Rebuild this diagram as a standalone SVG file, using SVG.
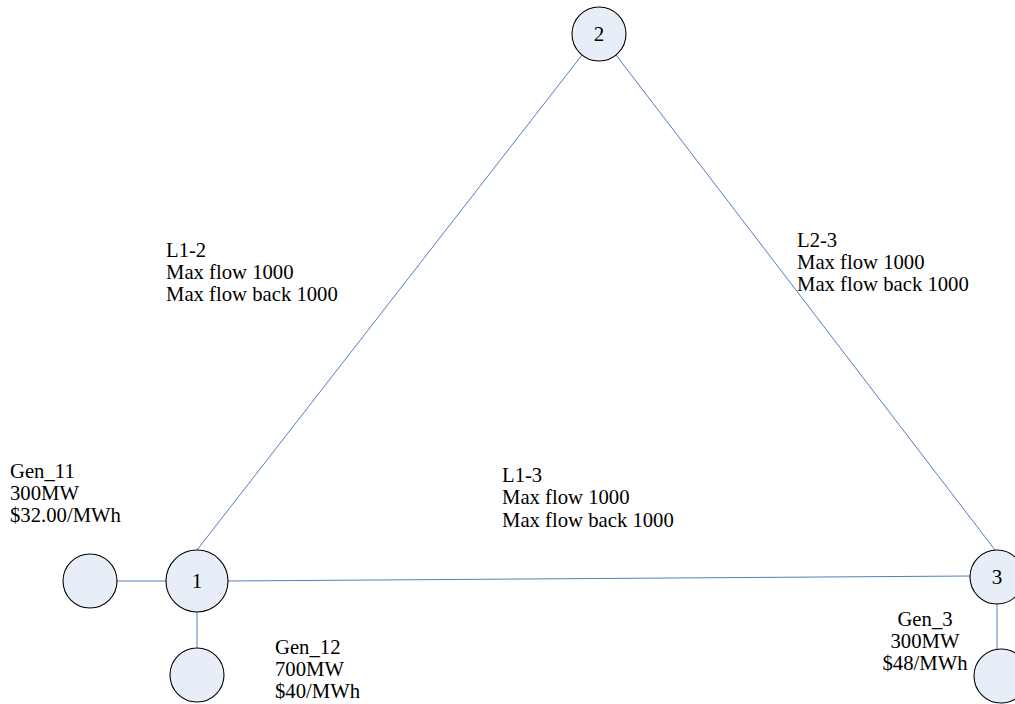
<svg xmlns="http://www.w3.org/2000/svg" width="1015" height="704" viewBox="0 0 1015 704">
<style>
.node{fill:#E8EEF8;stroke:#000;stroke-width:1.1}
.edge{stroke:#4F7FC0;stroke-width:1;fill:none}
.lbl{font-family:"Liberation Serif","Times New Roman",serif;font-size:20.7px;fill:#000}
.num{font-family:"Liberation Serif","Times New Roman",serif;font-size:21px;fill:#000;text-anchor:middle;dominant-baseline:central}
</style>
<rect width="1015" height="704" fill="#fff"/>
<g id="connectors">
<line class="edge" x1="197" y1="550" x2="582" y2="55"/>
<line class="edge" x1="616" y1="55" x2="995" y2="550"/>
<line class="edge" x1="228" y1="581" x2="970" y2="576"/>
<line class="edge" x1="117" y1="581" x2="166" y2="581"/>
<line class="edge" x1="197" y1="607" x2="197" y2="648"/>
<line class="edge" x1="997" y1="599" x2="997" y2="649"/>
</g>
<g id="node2"><circle class="node" cx="599" cy="34" r="27"/><text class="num" x="599" y="34">2</text></g>
<g id="node1"><circle class="node" cx="197" cy="581" r="31"/><text class="num" x="197" y="581">1</text></g>
<g id="node3"><circle class="node" cx="997" cy="577" r="27"/><text class="num" x="997" y="577">3</text></g>
<g id="gen11"><circle class="node" cx="90" cy="581" r="27"/>
<text class="lbl" x="10" y="478">Gen_11</text><text class="lbl" x="10" y="500">300MW</text><text class="lbl" x="10" y="522">$32.00/MWh</text></g>
<g id="gen12"><circle class="node" cx="197" cy="675" r="27"/>
<text class="lbl" x="275" y="654">Gen_12</text><text class="lbl" x="275" y="676">700MW</text><text class="lbl" x="275" y="698">$40/MWh</text></g>
<g id="gen3"><circle class="node" cx="1001" cy="676" r="27"/>
<text class="lbl" x="925" y="626" text-anchor="middle">Gen_3</text><text class="lbl" x="925" y="648" text-anchor="middle">300MW</text><text class="lbl" x="925" y="670" text-anchor="middle">$48/MWh</text></g>
<g id="labelL12"><text class="lbl" x="166" y="257">L1-2</text><text class="lbl" x="166" y="279">Max flow 1000</text><text class="lbl" x="166" y="301">Max flow back 1000</text></g>
<g id="labelL23"><text class="lbl" x="797" y="247">L2-3</text><text class="lbl" x="797" y="269">Max flow 1000</text><text class="lbl" x="797" y="291">Max flow back 1000</text></g>
<g id="labelL13"><text class="lbl" x="502" y="482">L1-3</text><text class="lbl" x="502" y="504">Max flow 1000</text><text class="lbl" x="502" y="527">Max flow back 1000</text></g>
</svg>
